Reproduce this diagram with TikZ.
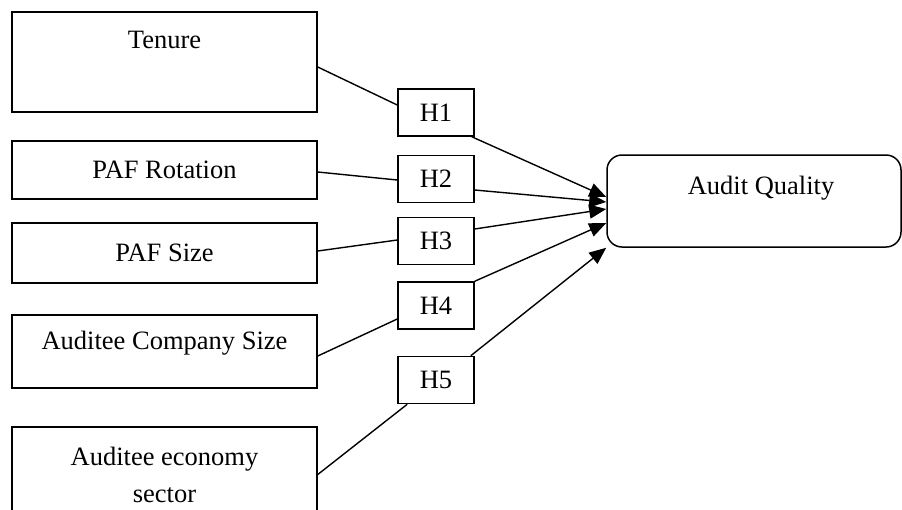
\documentclass[tikz,border=0pt]{standalone}
\usepackage{fontspec}
\setmainfont{Liberation Serif}
\usetikzlibrary{arrows.meta}
\tikzset{
  varbox/.style={draw, line width=1.5pt, minimum width=305pt, inner sep=0pt, align=center},
  hbox/.style={draw, line width=1.5pt, minimum width=76pt, minimum height=47pt, inner sep=0pt},
  link/.style={line width=1.4pt},
  effect/.style={line width=1.4pt, -{Triangle[length=17pt,width=14pt]}},
}
\begin{document}
\begin{tikzpicture}[x=1pt, y=-1pt, font=\fontsize{26.5}{37}\selectfont]
  \useasboundingbox (0,0) rectangle (902,509);

  % independent variables
  \node[varbox, minimum height=100pt, label={[name=tenuretxt, yshift=22pt]center:Tenure}] (tenure) at (164.5,62) {};
  \node[varbox, minimum height=58pt] (rotation) at (164.5,170) {PAF Rotation};
  \node[varbox, minimum height=60pt] (size) at (164.5,253) {PAF Size};
  \node[varbox, minimum height=73pt, label={[name=companytxt, yshift=8pt]center:Auditee Company Size}] (company) at (164.5,351.5) {};
  \node[varbox, minimum height=95pt] (sector) at (164.5,474.5) {Auditee economy\\sector};

  % hypotheses
  \node[hbox] (h1) at (436,112.5) {H1};
  \node[hbox] (h2) at (436,179) {H2};
  \node[hbox] (h3) at (436,241) {H3};
  \node[hbox] (h4) at (436,305.5) {H4};
  \node[hbox] (h5) at (436,380) {H5};

  % dependent variable
  \node[draw, line width=1.5pt, rounded corners=15pt, minimum width=294pt, minimum height=92pt,
        label={[name=aqtxt, xshift=7pt, yshift=13pt]center:Audit Quality}] (aq) at (754,201) {};

  % variable -> hypothesis
  \draw[link] ([yshift=-5pt]tenure.east) -- ([yshift=7.5pt]h1.west);
  \draw[link] ([yshift=-2pt]rotation.east) -- ([yshift=-1pt]h2.west);
  \draw[link] ([yshift=2pt]size.east) -- ([yshift=1pt]h3.west);
  \draw[link] ([yshift=-4.5pt]company.east) -- ([yshift=-13.5pt]h4.west);
  \draw[link] (sector.east) -- ([xshift=10pt]h5.south west);

  % hypothesis -> audit quality
  \draw[effect] ([xshift=-3pt]h1.south east) -- ([yshift=4pt]aq.west);
  \draw[effect] ([yshift=-11pt]h2.east) -- ([yshift=-1pt]aq.west);
  \draw[effect] ([yshift=12pt]h3.east) -- ([yshift=-8pt]aq.west);
  \draw[effect] (h4.north east) -- ([yshift=-22pt]aq.west);
  \draw[effect] ([xshift=-4pt]h5.north east) -- (aq.south west);
\end{tikzpicture}
\end{document}
